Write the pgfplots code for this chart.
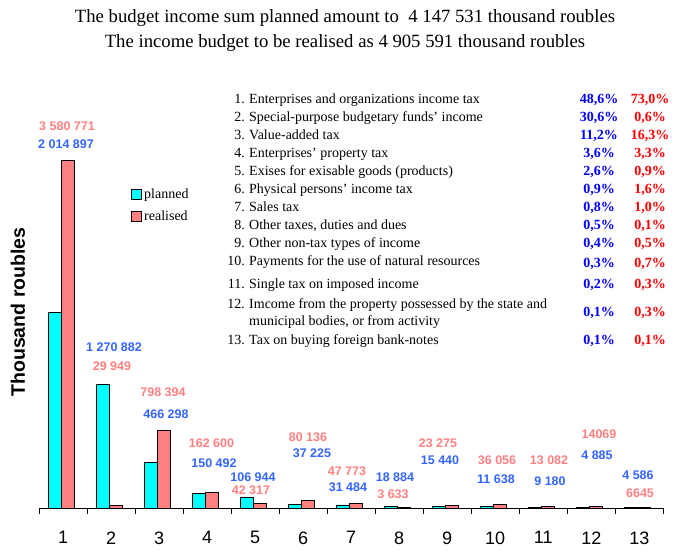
\documentclass[border=0pt]{standalone}
\usepackage{fontspec}
\setmainfont{Liberation Serif}
\newfontfamily\arial{Liberation Sans}
\usepackage{pgfplots}
\pgfplotsset{compat=1.18}
\definecolor{cyanbar}{HTML}{00FFFF}
\definecolor{salmon}{HTML}{FF8080}
\definecolor{lblue}{HTML}{3366FF}
\definecolor{pblue}{HTML}{0000FF}
\definecolor{pred}{HTML}{FF0000}
\newcommand{\pct}[3]{\node[pblue] at (599,#3) {#1\%};\node[pred] at (650,#3) {#2\%};}
\begin{document}
\begin{tikzpicture}[x=1pt,y=1pt]
\useasboundingbox (0,0) rectangle (694,560);
\begin{axis}[
  at={(39pt,52pt)}, anchor=south west,
  scale only axis, width=624.3pt, height=420pt,
  xmin=0.5, xmax=13.5, ymin=0, ymax=4326000,
  hide y axis, axis x line*=bottom, x axis line style={-, line width=0.8pt},
  xtick={1,...,13}, major tick length=0pt,
  minor xtick={0.5,1.5,...,13.5}, minor tick length=6pt, tick align=outside,
  minor tick style={black, line width=0.8pt},
  /pgf/number format/assume math mode=true,
  xticklabel style={font=\arial\fontsize{18}{18}\selectfont, yshift=-20pt},
  clip=false,
  legend style={draw=none, fill=none, at={(axis cs:2.42,3306000)}, anchor=north west,
     inner sep=0pt, font=\fontsize{14}{14}\selectfont, row sep=6pt},
  legend cell align=left,
  legend image code/.code={\draw[#1, line width=0.8pt] (0pt,-5pt) rectangle (10pt,5pt);},
]
\addplot[ybar, bar width=13pt, bar shift=-8pt, fill=cyanbar, draw=black, line width=0.8pt]
 coordinates {(1,2014897) (2,1270882) (3,466298) (4,150492) (5,106944) (6,37225) (7,31484) (8,18884) (9,15440) (10,11638) (11,9180) (12,4885) (13,4586)};
\addlegendentry{planned}
\addplot[ybar, bar width=13pt, bar shift=5pt, fill=salmon, draw=black, line width=0.8pt]
 coordinates {(1,3580771) (2,29949) (3,798394) (4,162600) (5,42317) (6,80136) (7,47773) (8,3633) (9,23275) (10,36056) (11,13082) (12,14069) (13,6645)};
\addlegendentry{realised}
\end{axis}
% titles
\node[font=\fontsize{18.7}{21}\selectfont] at (345,542) {The budget income sum planned amount to\ \ 4 147 531 thousand roubles};
\node[font=\fontsize{18.7}{21}\selectfont] at (345,517) {The income budget to be realised as 4 905 591 thousand roubles};
% y label
\node[rotate=90, font=\arial\bfseries\fontsize{19.5}{20}\selectfont] at (18,248) {Thousand roubles};
% data labels
\begin{scope}[every node/.style={font=\arial\bfseries\fontsize{12.5}{13}\selectfont, inner sep=0pt}]
\node[salmon] at (67,434) {3 580 771};
\node[lblue] at (66,416) {2 014 897};
\node[lblue] at (114,213) {1 270 882};
\node[salmon] at (112,194) {29 949};
\node[salmon] at (163,168) {798 394};
\node[lblue] at (166,146) {466 298};
\node[salmon] at (211.5,117) {162 600};
\node[lblue] at (214,97) {150 492};
\node[lblue] at (253,83) {106 944};
\node[salmon] at (251,70) {42 317};
\node[salmon] at (308,123) {80 136};
\node[lblue] at (312,107) {37 225};
\node[salmon] at (347,89) {47 773};
\node[lblue] at (348,73) {31 484};
\node[lblue] at (395,83) {18 884};
\node[salmon] at (393,66) {3 633};
\node[salmon] at (438,117) {23 275};
\node[lblue] at (440,100) {15 440};
\node[salmon] at (497,100) {36 056};
\node[lblue] at (496,81) {11 638};
\node[salmon] at (549,100) {13 082};
\node[lblue] at (550,79) {9 180};
\node[salmon] at (599,126) {14069};
\node[lblue] at (597,105) {4 885};
\node[lblue] at (638,85) {4 586};
\node[salmon] at (640,67) {6645};
\end{scope}
% list
\begin{scope}[every node/.style={font=\fontsize{14}{15}\selectfont, inner sep=0pt}]
\foreach \n/\t/\y in {1./Enterprises and organizations income tax/459,
  2./Special-purpose budgetary funds' income/441,
  3./Value-added tax/423,
  4./Enterprises’ property tax/405,
  5./Exises for exisable goods (products)/387,
  6./Physical persons’ income tax/369,
  7./Sales tax/351,
  8./{Other taxes, duties and dues}/333,
  9./Other non-tax types of income/315,
  10./Payments for the use of natural resources/297,
  11./Single tax on imposed income/274,
  12./Imcome from the property possessed by the state and/254,
  13./Tax on buying foreign bank-notes/218}
  {\node[anchor=mid east] at (245,\y) {\n};
   \node[anchor=mid west] at (249,\y) {\t};}
\node[anchor=mid west] at (249,237) {municipal bodies, or from activity};
\end{scope}
\begin{scope}[every node/.style={font=\bfseries\fontsize{14}{15}\selectfont, inner sep=0pt, anchor=mid}]
\pct{48,6}{73,0}{459}
\pct{30,6}{0,6}{441}
\pct{11,2}{16,3}{423}
\pct{3,6}{3,3}{405}
\pct{2,6}{0,9}{387}
\pct{0,9}{1,6}{369}
\pct{0,8}{1,0}{351}
\pct{0,5}{0,1}{333}
\pct{0,4}{0,5}{315}
\pct{0,3}{0,7}{295}
\pct{0,2}{0,3}{274}
\pct{0,1}{0,3}{246}
\pct{0,1}{0,1}{218}
\end{scope}
\end{tikzpicture}
\end{document}
